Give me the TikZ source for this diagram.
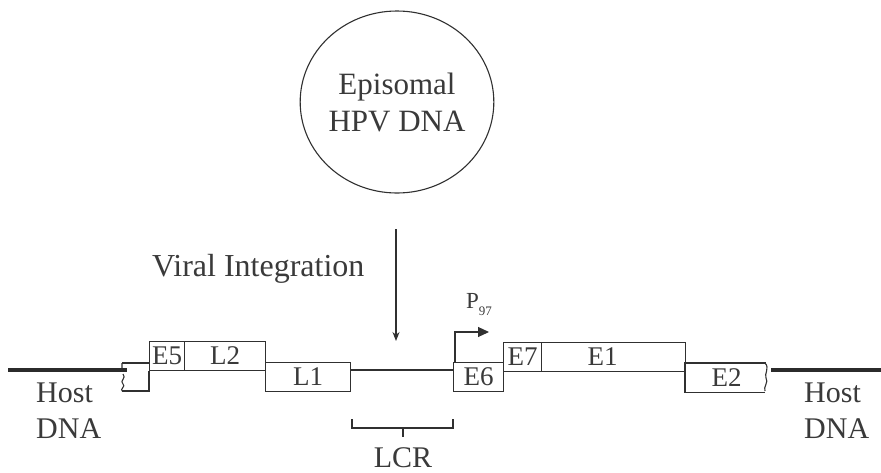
\documentclass[tikz,border=0pt]{standalone}
\usepackage{fontspec}
\setmainfont{Liberation Serif}
\usetikzlibrary{shapes.geometric,arrows.meta}
\definecolor{ink}{HTML}{303030}
\definecolor{txt}{HTML}{3A3A3A}
\tikzset{
  gene/.style={draw=ink, line width=1.1pt, inner sep=0pt, text=txt,
    font=\fontsize{27}{29}\selectfont},
  lbl/.style={text=txt, inner sep=0pt, font=\fontsize{30}{34}\selectfont},
  thin/.style={draw=ink, line width=1.1pt},
  host/.style={draw=ink!90!black, line width=4pt},
}
\begin{document}
\begin{tikzpicture}[x=1pt,y=-1pt]
\useasboundingbox[fill=white] (0,0) rectangle (881,472);
% episome
\node[ellipse, draw=ink, line width=1.1pt, minimum width=192pt, minimum height=182pt,
  inner sep=0pt, align=center, text=txt, font=\fontsize{31}{37}\selectfont] (epi) at (397,102) {Episomal\\HPV DNA};
% integration arrow
\node[lbl, anchor=base west, font=\fontsize{32}{34}\selectfont] (vi) at (152,276) {Viral Integration};
\coordinate (vtop) at (396,229);
\coordinate (vtip) at (396,341);
\draw[thin, -{Stealth[length=9pt,width=7pt]}] (vtop) -- (vtip);
% host DNA
\coordinate (hl1) at (8,370);
\coordinate (hl2) at (127,370);
\coordinate (hr1) at (771,370);
\coordinate (hr2) at (881,370);
\draw[host] (hl1) -- (hl2);
\draw[host] (hr1) -- (hr2);
% genes
\node[gene, minimum width=35pt, minimum height=29pt, anchor=north west] (E5) at (149,341) {E5};
\node[gene, minimum width=81pt, minimum height=29pt, anchor=north west] (L2) at (184,341) {L2};
\node[gene, minimum width=85pt, minimum height=29pt, anchor=north west] (L1) at (265,362) {L1};
\node[gene, minimum width=50pt, minimum height=29pt, anchor=north west] (E6) at (453,362) {E6};
\node[gene, minimum width=38pt, minimum height=29pt, anchor=north west] (E7) at (503,342) {E7};
\node[gene, minimum width=144pt, minimum height=29pt, anchor=north west, text width=144pt, align=center] (E1) at (541,342) {E1\hspace*{22pt}};
\node[gene, draw=none, minimum width=82pt, minimum height=28pt, anchor=north west] (E2) at (685,363) {E2};
\draw[thin] (E2.north east) ++(-2,0) -- (E2.north west) -- (E2.south west) -- ++(80,0);
% left stub with break
\coordinate (ls1) at (122,363);
\coordinate (ls2) at (122,391);
\draw[thin] (ls1) -- (E5.north west |- ls1);
\draw[thin] (E5.south west) -- (E5.south west |- ls2) -- (ls2);
\draw[thin] (ls1) -- ++(0,5) (123,374) .. controls (127,378) and (119,381) .. (123,384)
  .. controls (126,386) and (120,389) .. (ls2);
% right break
\draw[thin] (765,363) .. controls (770,368) and (764,374) .. (766,378)
  .. controls (769,382) and (763,387) .. (765,391);
% LCR line
\draw[draw=ink, line width=1.6pt] (L1.east |- 0,370) -- (E6.west |- 0,370);
% promoter
\coordinate (pb) at (455,362);
\coordinate (pc) at (455,332);
\coordinate (pt) at (489,332);
\draw[thin, -{Triangle[length=11pt,width=10pt]}] (pb) -- (pc) -- (pt);
\node[text=txt, inner sep=0pt, anchor=base west, font=\fontsize{23}{24}\selectfont] (P) at (466,308) {P\raisebox{-7pt}{\fontsize{13}{14}\selectfont 97}};
% LCR bracket
\coordinate (b1) at (352,419);
\coordinate (b2) at (453,419);
\coordinate (bm) at (403,428);
\draw[draw=ink, line width=1.6pt] (b1) -- (b1 |- bm) -- (b2 |- bm) -- (b2);
\draw[thin] (bm) -- ++(0,9);
\node[lbl, anchor=base] (LCR) at (403,467) {LCR};
% host labels
\node[lbl, anchor=base west] (hostl) at (36,402) {Host};
\node[lbl, anchor=base west] (dnal) at (36,438) {DNA};
\node[lbl, anchor=base west] (hostr) at (804,402) {Host};
\node[lbl, anchor=base west] (dnar) at (804,438) {DNA};
\end{tikzpicture}
\end{document}
